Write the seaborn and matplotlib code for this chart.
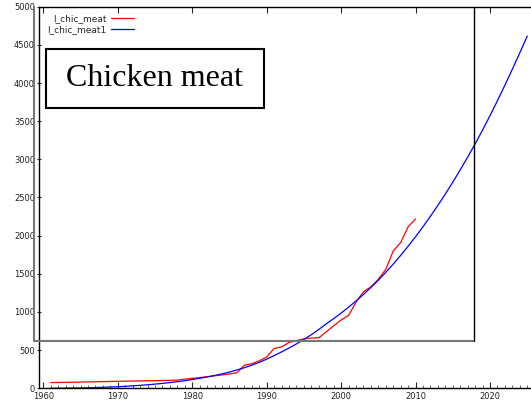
import matplotlib
matplotlib.use('Agg')
import matplotlib.pyplot as plt
import seaborn as sns
from matplotlib.lines import Line2D
from matplotlib.patches import Rectangle
from matplotlib.ticker import MultipleLocator

# observed series (annual)
years_meat = list(range(1961, 2011))
chic_meat = [75, 77, 78, 80, 82, 84, 86, 88, 90, 92,
             94, 96, 97, 99, 100, 102, 104, 108, 120, 130,
             140, 152, 163, 175, 188, 203, 302, 322, 360, 410,
             522, 542, 600, 625, 648, 658, 662, 740, 820, 895,
             955, 1130, 1265, 1330, 1430, 1560, 1800, 1910, 2117, 2218]

# fitted curve (annual)
years_fit = list(range(1961, 2026))
chic_meat1 = [1, 2, 3, 4, 5, 7, 10, 13, 17, 21,
              26, 32, 39, 46, 55, 64, 75, 87, 100, 115,
              131, 149, 168, 189, 213, 240, 270, 303, 340, 382,
              428, 477, 528, 582, 640, 703, 771, 844, 913, 986,
              1063, 1144, 1230, 1321, 1417, 1520, 1628, 1742, 1862, 1987,
              2118, 2255, 2398, 2547, 2702, 2863, 3030, 3203, 3385, 3574,
              3770, 3973, 4182, 4396, 4615]

sns.set_style('white')
plt.rcParams['font.family'] = 'DejaVu Sans'

W, H = 531, 413
fig = plt.figure(figsize=(W / 100, H / 100), dpi=100)
ax = fig.add_axes([38.5 / W, (H - 388.3) / H, 1 - 38.5 / W, (388.3 - 6.7) / H])

sns.lineplot(x=years_meat, y=chic_meat, color='red', lw=0.9, label='I_chic_meat', ax=ax)
sns.lineplot(x=years_fit, y=chic_meat1, color='blue', lw=0.9, label='I_chic_meat1', ax=ax)

ax.set_xlim(1959.35, 2025.5)
ax.set_ylim(0, 5000)
ax.xaxis.set_major_locator(MultipleLocator(10))
ax.xaxis.set_minor_locator(MultipleLocator(1))
ax.yaxis.set_major_locator(MultipleLocator(500))
ax.tick_params(axis='x', which='major', direction='in', top=True, bottom=True,
               length=4, width=0.8, labelsize=6, pad=3, labelcolor='#222222')
ax.tick_params(axis='x', which='minor', direction='in', top=False, bottom=True,
               length=2, width=0.5)
ax.tick_params(axis='y', which='major', direction='inout', left=True, length=3, width=0.8,
               labelsize=6, pad=1, labelcolor='#222222')
ax.spines['right'].set_visible(False)
for s in ['top', 'left', 'bottom']:
    ax.spines[s].set_linewidth(1)
    ax.spines[s].set_color('black')
ax.set_xlabel('')
ax.set_ylabel('')

ax.legend(loc='upper right', bbox_to_anchor=(139 / W, (H - 10) / H),
          bbox_transform=fig.transFigure, markerfirst=False, frameon=False,
          fontsize=6.5, handlelength=2.6, handletextpad=0.5, borderpad=0,
          labelspacing=0.15)

# big frame around the key area
yb = (H - 341) / H
yt = (H - 6.7) / H
fig.add_artist(Line2D([34.3 / W] * 2, [yb, yt], color='#777777', lw=1.5, transform=fig.transFigure))
fig.add_artist(Line2D([34.3 / W, 474.3 / W], [yb, yb], color='#777777', lw=1.5, transform=fig.transFigure))
fig.add_artist(Line2D([474.3 / W] * 2, [yb, yt], color='black', lw=1, transform=fig.transFigure))

# title box
fig.add_artist(Rectangle((45.7 / W, (H - 108) / H), (264.3 - 45.7) / W, (108 - 49.3) / H,
                         transform=fig.transFigure, fc='white', ec='black', lw=1.5))
fig.text((45.7 + 264.3) / 2 / W, (H - 79) / H, 'Chicken meat', family='Liberation Serif',
         fontsize=23, color='black', ha='center', va='center')

fig.savefig('out.png', dpi=100)
